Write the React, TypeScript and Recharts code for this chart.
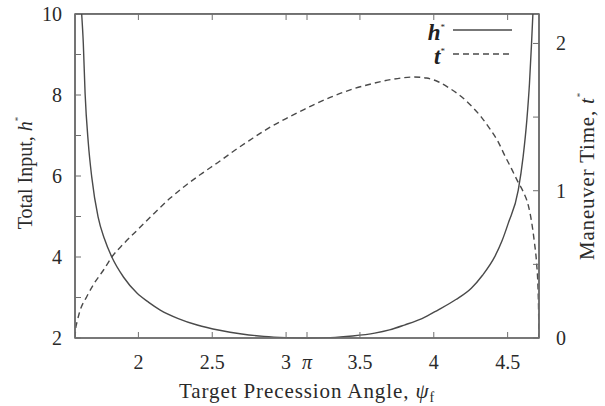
import React from "react";
import { LineChart, Line, XAxis, YAxis, Label, ReferenceArea, ReferenceLine } from "recharts";

// total input h* vs target precession angle
const hPsi = [
  1.616, 1.627, 1.639, 1.661, 1.684, 1.727, 1.77, 1.82, 1.9, 1.99, 2.07, 2.148, 2.27, 2.398,
  2.55, 2.7, 2.85, 3.0, 3.14, 3.3, 3.45, 3.6, 3.7, 3.801, 3.92, 4.028, 4.15, 4.254, 4.33,
  4.413, 4.46, 4.504, 4.572, 4.605, 4.63, 4.648, 4.662, 4.671,
];
const hValues = [
  10, 9.28, 8.05, 6.81, 5.98, 4.99, 4.45, 4.0, 3.5, 3.11, 2.88, 2.69, 2.48, 2.32,
  2.19, 2.1, 2.04, 2.01, 2.0, 2.01, 2.05, 2.12, 2.2, 2.32, 2.48, 2.69, 2.95, 3.23, 3.55,
  4.01, 4.38, 4.83, 5.65, 6.48, 7.38, 8.29, 9.28, 10,
];

// maneuver time t*
const tPsi = [
  1.5708, 1.575, 1.585, 1.6, 1.65, 1.7, 1.763, 1.82, 1.9, 1.99, 2.1, 2.216, 2.3, 2.42, 2.55,
  2.646, 2.75, 2.873, 3.0, 3.099, 3.2, 3.326, 3.45, 3.575, 3.711, 3.8, 3.867, 3.95, 4.03, 4.1,
  4.186, 4.25, 4.322, 4.38, 4.437, 4.48, 4.526, 4.57, 4.607, 4.64, 4.662, 4.68, 4.696,
  4.705, 4.709, 4.7124,
];
const tValues = [
  0, 0.06, 0.11, 0.17, 0.28, 0.37, 0.46, 0.55, 0.64, 0.73, 0.84, 0.95, 1.02, 1.11, 1.2,
  1.27, 1.34, 1.42, 1.49, 1.54, 1.59, 1.645, 1.69, 1.725, 1.755, 1.768, 1.772, 1.765, 1.74, 1.7,
  1.64, 1.58, 1.5, 1.42, 1.33, 1.24, 1.15, 1.06, 0.99, 0.9, 0.79, 0.66, 0.51,
  0.36, 0.22, 0,
];

const xTicks = [2, 2.5, 3, Math.PI, 3.5, 4, 4.5];
const leftTicks = [2, 3, 4, 5, 6, 7, 8, 9, 10];
const rightTicks = [0, 0.5, 1, 1.5, 2];
const seriesNames = ["h", "t"];

const hData = hPsi.map((psi, i) => ({ psi, h: hValues[i] }));
const tData = tPsi.map((psi, i) => ({ psi, t: tValues[i] }));

const FONT = "Liberation Serif, DejaVu Serif, serif";
const FRAME = "#6f6f6f";
const INK = "#4a4a4a";
const TEXT = "#2a2a2a";
const TICK_LEN = 6;
const PSI_MIN = Math.PI / 2;
const PSI_MAX = (3 * Math.PI) / 2;
const DASH = "6 4";

const fmtX = (v: number) => (Math.abs(v - Math.PI) < 1e-6 ? "π" : String(v));

function BottomTick(props: any) {
  const { x, y, payload } = props;
  const axisY = y - 24;
  const label = fmtX(payload.value);
  return (
    <g>
      <line x1={x} x2={x} y1={axisY} y2={axisY - TICK_LEN} stroke={FRAME} strokeWidth={1} />
      <text x={x} y={y + 7} textAnchor="middle" style={{ fontFamily: FONT }} fontSize={20} fill={TEXT}
        fontStyle={label === "π" ? "italic" : "normal"}>
        {label}
      </text>
    </g>
  );
}

// short mirrored tick hanging from the top border
const topTickShape = (props: any) => {
  const { x1, y1, y2 } = props;
  const top = Math.min(y1, y2);
  return <line x1={x1} x2={x1} y1={top} y2={top + TICK_LEN} stroke={FRAME} strokeWidth={1} />;
};

function LeftTick(props: any) {
  const { x, y, payload } = props;
  const axisX = x + 13;
  return (
    <g>
      <line x1={axisX} x2={axisX + TICK_LEN} y1={y} y2={y} stroke={FRAME} strokeWidth={1} />
      {payload.value % 2 === 0 && (
        <text x={x} y={y + 7} textAnchor="end" style={{ fontFamily: FONT }} fontSize={20} fill={TEXT}>
          {payload.value}
        </text>
      )}
    </g>
  );
}

function RightTick(props: any) {
  const { x, y, payload } = props;
  const axisX = x - 17;
  return (
    <g>
      <line x1={axisX} x2={axisX - TICK_LEN} y1={y} y2={y} stroke={FRAME} strokeWidth={1} />
      {Number.isInteger(payload.value) && (
        <text x={x} y={y + 7} textAnchor="start" style={{ fontFamily: FONT }} fontSize={20} fill={TEXT}>
          {payload.value}
        </text>
      )}
    </g>
  );
}

function KeyBox() {
  return (
    <div style={{ position: "absolute", top: 18, left: 412, width: 100, fontFamily: FONT, fontSize: 23, color: "#222" }}>
      {seriesNames.map((name, i) => (
        <div key={name} style={{ display: "flex", alignItems: "center", height: 24, justifyContent: "flex-end" }}>
          <span style={{ fontStyle: "italic", fontWeight: 600, marginRight: 8, lineHeight: "24px" }}>
            {name}
            <sup style={{ fontSize: 9, fontStyle: "normal", fontWeight: "normal", verticalAlign: 10 }}>*</sup>
          </span>
          <svg width={59} height={10}>
            <line x1={0} x2={59} y1={5} y2={5} stroke={INK} strokeWidth={1.4}
              strokeDasharray={i === 1 ? DASH : undefined} />
          </svg>
        </div>
      ))}
    </div>
  );
}

export default function App() {
  return (
    <div style={{ position: "fixed", left: 0, top: 0, width: 605, height: 406, background: "#fff" }}>
      <LineChart width={605} height={406} margin={{ top: 14, right: 0, bottom: 0, left: 0 }}>
        <XAxis
          xAxisId="bottom"
          dataKey="psi"
          type="number"
          domain={[PSI_MIN, PSI_MAX]}
          allowDataOverflow
          ticks={xTicks}
          interval={0}
          height={68}
          tickSize={0}
          tickMargin={24}
          tick={<BottomTick />}
          axisLine={{ stroke: FRAME, strokeWidth: 1.6 }}
        >
          <Label
            content={({ viewBox }: any) => (
              <text x={viewBox.x + viewBox.width / 2} y={viewBox.y + 60} textAnchor="middle"
                style={{ fontFamily: FONT, letterSpacing: 0.9 }} fontSize={21} fill={TEXT}>
                Target Precession Angle,{" "}
                <tspan fontStyle="italic">ψ</tspan>
                <tspan fontSize={14} dy={4}>f</tspan>
              </text>
            )}
          />
        </XAxis>
        <YAxis
          yAxisId="left"
          domain={[2, 10]}
          ticks={leftTicks}
          interval={0}
          width={75}
          tickSize={0}
          tickMargin={13}
          tick={<LeftTick />}
          axisLine={{ stroke: FRAME, strokeWidth: 1.6 }}
        >
          <Label
            content={({ viewBox }: any) => {
              const cx = viewBox.x + 25;
              const cy = viewBox.y + viewBox.height / 2 - 3;
              return (
                <text x={cx} y={cy} transform={`rotate(-90 ${cx} ${cy})`} textAnchor="middle"
                  dominantBaseline="central" style={{ fontFamily: FONT }} fontSize={20} fill={TEXT}>
                  Total Input, <tspan fontStyle="italic">h</tspan>
                  <tspan fontSize={9} dy={-7}>*</tspan>
                </text>
              );
            }}
          />
        </YAxis>
        <YAxis
          yAxisId="right"
          orientation="right"
          domain={[0, 2.2]}
          ticks={rightTicks}
          interval={0}
          width={66}
          tickSize={0}
          tickMargin={17}
          tick={<RightTick />}
          axisLine={{ stroke: FRAME, strokeWidth: 1.6 }}
        >
          <Label
            content={({ viewBox }: any) => {
              const cx = viewBox.x + 48;
              const cy = viewBox.y + viewBox.height / 2;
              return (
                <text x={cx} y={cy} transform={`rotate(-90 ${cx} ${cy})`} textAnchor="middle"
                  dominantBaseline="central" style={{ fontFamily: FONT, letterSpacing: 0.8 }} fontSize={21} fill={TEXT}>
                  Maneuver Time, <tspan fontStyle="italic">t</tspan>
                  <tspan fontSize={9} dy={-7}>*</tspan>
                </text>
              );
            }}
          />
        </YAxis>

        {/* plot frame and mirrored top ticks */}
        <ReferenceArea
          xAxisId="bottom"
          yAxisId="left"
          x1={PSI_MIN}
          x2={PSI_MAX}
          y1={2}
          y2={10}
          fill="none"
          stroke={FRAME}
          strokeWidth={1.6}
        />
        <ReferenceLine xAxisId="bottom" yAxisId="left" y={10} stroke={FRAME} strokeWidth={1.6} />
        {xTicks.map((v) => (
          <ReferenceLine key={v} xAxisId="bottom" yAxisId="left" x={v} shape={topTickShape} />
        ))}

        <Line
          data={hData}
          xAxisId="bottom"
          yAxisId="left"
          dataKey="h"
          name="h"
          type="monotone"
          stroke={INK}
          strokeWidth={1.4}
          dot={false}
          isAnimationActive={false}
        />
        <Line
          data={tData}
          xAxisId="bottom"
          yAxisId="right"
          dataKey="t"
          name="t"
          type="monotone"
          stroke={INK}
          strokeWidth={1.4}
          strokeDasharray={DASH}
          dot={false}
          isAnimationActive={false}
        />
      </LineChart>
      {/* top border of the frame */}
      <div style={{ position: "absolute", top: 13, left: 75, width: 464, height: 0, borderTop: `1.6px solid ${FRAME}` }} />
      <KeyBox />
    </div>
  );
}
